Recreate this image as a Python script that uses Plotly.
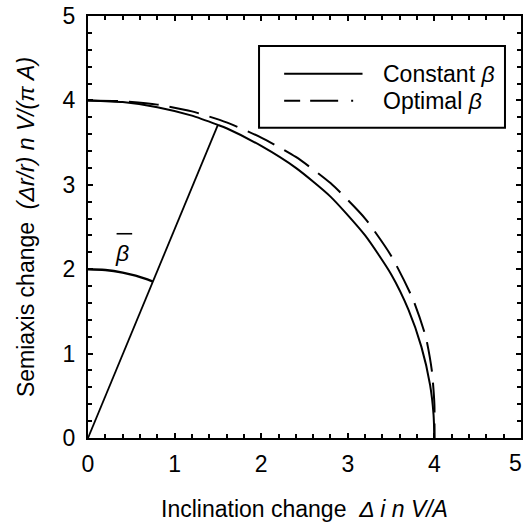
import plotly.graph_objects as go

# Constant beta curve
const_x = [0.0, 0.4, 0.8, 1.2, 1.5, 1.6, 2.0, 2.4, 2.8, 3.2, 3.5, 3.7, 3.85, 3.95, 3.99, 4.0]
const_y = [4.0, 3.98, 3.92, 3.82, 3.71, 3.67, 3.46, 3.2, 2.86, 2.4, 1.94, 1.52, 1.08, 0.63, 0.28, 0.0]

# Optimal beta curve
opt_x = [0.0, 0.4, 0.8, 1.2, 1.6, 2.0, 2.4, 2.8, 3.2, 3.5, 3.75, 3.9, 3.97, 4.0, 4.0]
opt_y = [4.0, 3.99, 3.95, 3.87, 3.74, 3.56, 3.33, 3.02, 2.6, 2.16, 1.65, 1.2, 0.8, 0.4, 0.0]

# Ray from origin to the constant curve
ray_x = [0.0, 1.5]
ray_y = [0.0, 3.71]

# Small arc indicating beta-bar
arc_x = [0.0, 0.2, 0.4, 0.55, 0.75]
arc_y = [2.0, 1.99, 1.96, 1.923, 1.854]

# Tick labels
tick_vals = [0, 1, 2, 3, 4, 5]
tick_text = ["0", "1", "2", "3", "4", "5"]

FONT = "Liberation Sans, Arial, sans-serif"
OPT_DASH = "30px,11px"

fig = go.Figure()
fig.add_trace(go.Scatter(x=const_x, y=const_y, mode="lines", name="Constant β", showlegend=False,
                         line=dict(color="black", width=2, shape="spline", smoothing=0.6)))
fig.add_trace(go.Scatter(x=opt_x, y=opt_y, mode="lines", name="Optimal β", showlegend=False,
                         line=dict(color="black", width=2, shape="spline", smoothing=0.6,
                                   dash=OPT_DASH)))
fig.add_trace(go.Scatter(x=ray_x, y=ray_y, mode="lines", showlegend=False,
                         line=dict(color="black", width=1.8)))
fig.add_trace(go.Scatter(x=arc_x, y=arc_y, mode="lines", showlegend=False,
                         line=dict(color="black", width=2.4, shape="spline")))

# beta-bar label
fig.add_annotation(x=0.39, y=2.19, xref="x", yref="y", text="<i>β</i>", showarrow=False,
                   font=dict(family=FONT, size=23, color="black"))
fig.add_shape(type="line", x0=0.33, x1=0.51, y0=2.42, y1=2.42, xref="x", yref="y",
              line=dict(color="black", width=1.6))

# Legend (drawn manually to match the long line samples)
fig.add_shape(type="rect", xref="paper", yref="paper", x0=0.395, x1=0.963, y0=0.735, y1=0.929,
              line=dict(color="black", width=2), fillcolor="white", layer="below")
fig.add_shape(type="line", xref="paper", yref="paper", x0=0.453, x1=0.634, y0=0.863, y1=0.863,
              line=dict(color="black", width=2))
fig.add_shape(type="line", xref="paper", yref="paper", x0=0.453, x1=0.636, y0=0.799, y1=0.799,
              line=dict(color="black", width=2, dash="16px,10px,28px,13px,2px,20px"))
fig.add_annotation(xref="paper", yref="paper", x=0.676, y=0.863, xanchor="left", yanchor="middle",
                   text="Constant <i>β</i>", showarrow=False,
                   font=dict(family=FONT, size=23, color="black"))
fig.add_annotation(xref="paper", yref="paper", x=0.676, y=0.799, xanchor="left", yanchor="middle",
                   text="Optimal <i>β</i>", showarrow=False,
                   font=dict(family=FONT, size=23, color="black"))

# Last x tick label, kept just inside the right edge
fig.add_annotation(xref="x", yref="paper", x=tick_vals[-1], y=0, xanchor="right", yanchor="top",
                   xshift=3, yshift=-10, text=tick_text[-1], showarrow=False,
                   font=dict(family=FONT, size=23, color="black"))

axis_common = dict(
    range=[0, 5], tickmode="array", tickvals=tick_vals, ticktext=tick_text,
    showline=True, linecolor="black", linewidth=2,
    mirror="allticks", ticks="inside", ticklen=5, tickwidth=1.5, tickcolor="black",
    showgrid=False, zeroline=False,
    tickfont=dict(family=FONT, size=23, color="black"),
    minor=dict(tickmode="linear", tick0=0, dtick=0.2, ticks="inside", ticklen=4,
               tickwidth=1.5, tickcolor="black", showgrid=False),
)

fig.update_layout(
    width=526, height=530,
    margin=dict(l=88, r=3, t=15, b=92),
    plot_bgcolor="white", paper_bgcolor="white",
    xaxis=dict(**axis_common, ticklabelstandoff=4,
               title=dict(text="Inclination change  <i>Δ i n V/A</i>", standoff=25,
                          font=dict(family=FONT, size=23, color="black"))),
    yaxis=dict(**axis_common, ticklabelstandoff=6,
               title=dict(text="Semiaxis change  <i>(Δr/r) n V/(π A)</i>", standoff=22,
                          font=dict(family=FONT, size=23, color="black"))),
    showlegend=False,
)

fig.write_html("out.html")
